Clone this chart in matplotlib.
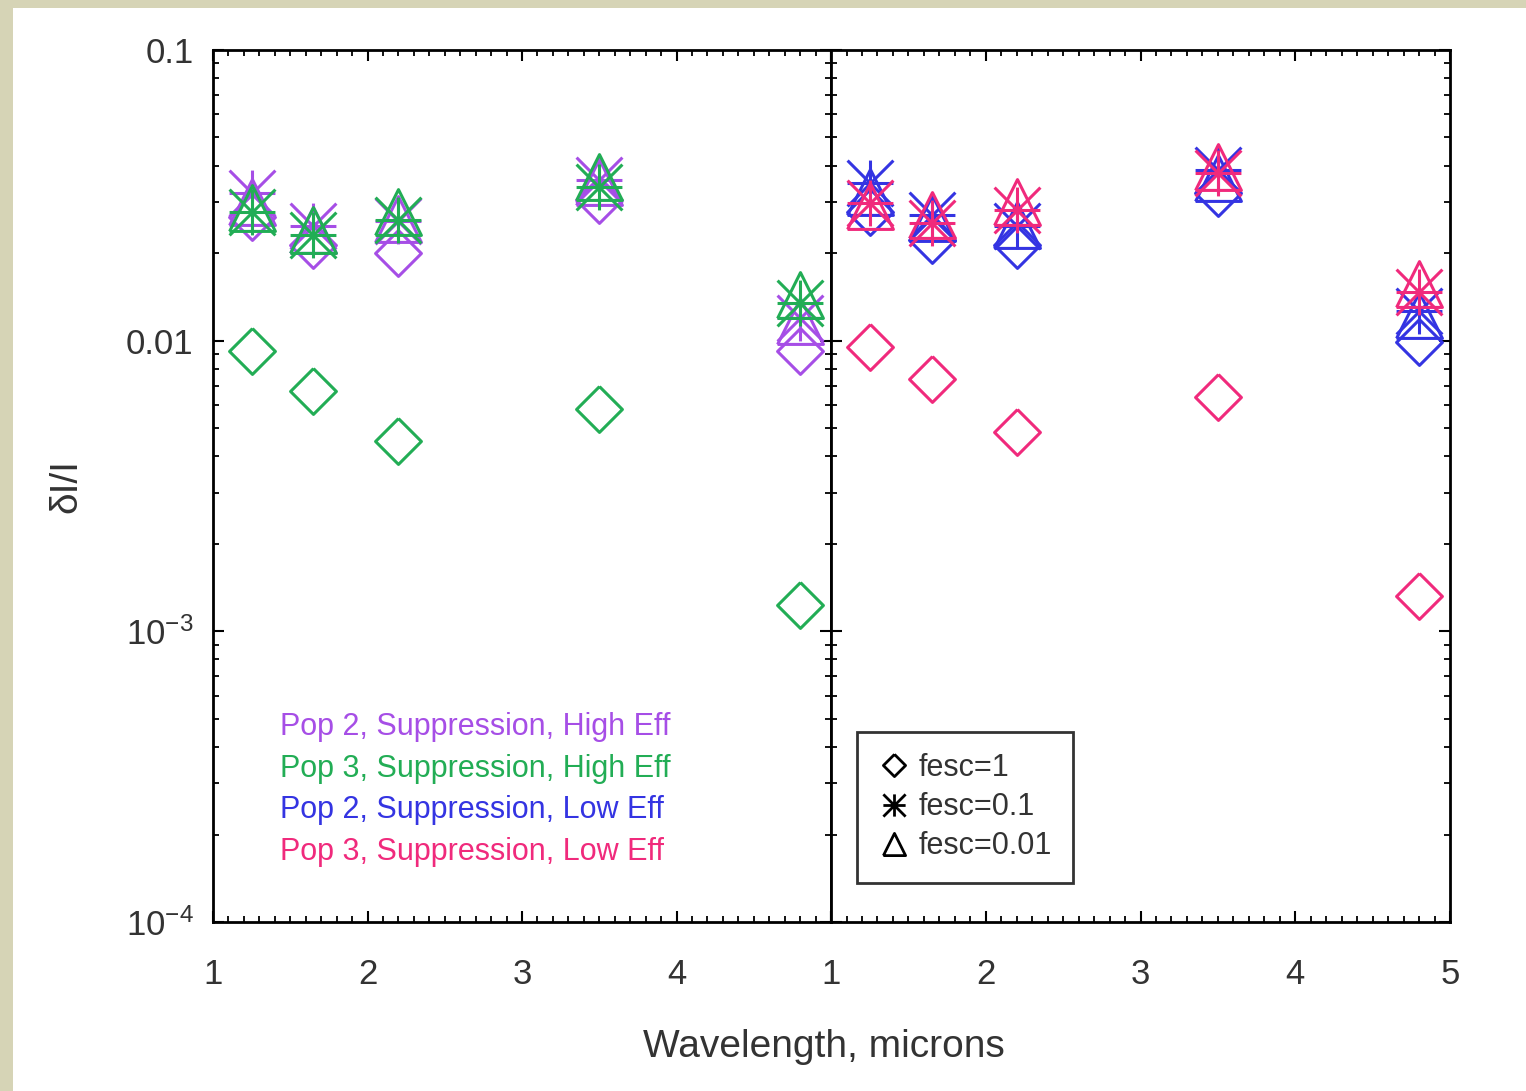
import matplotlib
matplotlib.use('Agg')
import matplotlib.pyplot as plt
from matplotlib.path import Path
from matplotlib.lines import Line2D
from matplotlib.patches import Rectangle
from matplotlib.ticker import FixedLocator, FixedFormatter, MultipleLocator, LogLocator

plt.rcParams['font.family'] = ['Liberation Sans', 'DejaVu Sans']
plt.rcParams['mathtext.default'] = 'regular'

# wavelengths (microns)
wavelengths = [1.25, 1.65, 2.2, 3.5, 4.8]

# left panel: high efficiency
pop2_high_f1 = [0.0267, 0.0214, 0.0200, 0.0305, 0.0092]
pop2_high_f01 = [0.0323, 0.0247, 0.0257, 0.0358, 0.0120]
pop2_high_f001 = [0.0300, 0.0240, 0.0262, 0.0350, 0.0117]
pop3_high_f1 = [0.0092, 0.0067, 0.0045, 0.0058, 0.00123]
pop3_high_f01 = [0.0277, 0.0230, 0.0260, 0.0338, 0.0135]
pop3_high_f001 = [0.0285, 0.0241, 0.0277, 0.0366, 0.0144]

# right panel: low efficiency
pop2_low_f1 = [0.0277, 0.0222, 0.0214, 0.0323, 0.0099]
pop2_low_f01 = [0.0349, 0.0271, 0.0247, 0.0387, 0.0126]
pop2_low_f001 = [0.0325, 0.0265, 0.0250, 0.0363, 0.0123]
pop3_low_f1 = [0.0095, 0.0074, 0.00486, 0.0064, 0.00132]
pop3_low_f01 = [0.0298, 0.0254, 0.0282, 0.0378, 0.0147]
pop3_low_f001 = [0.0290, 0.0270, 0.0300, 0.0396, 0.0157]

series_names = ['Pop 2, Suppression, High Eff', 'Pop 3, Suppression, High Eff',
                'Pop 2, Suppression, Low Eff', 'Pop 3, Suppression, Low Eff']
fesc_labels = ['fesc=1', 'fesc=0.1', 'fesc=0.01']

c_purple = '#a64ee6'
c_green = '#22ad55'
c_blue = '#3434e2'
c_pink = '#f02a7c'
text_col = '#333333'

# IDL-like symbols
diamond = Path([(0, 1), (1, 0), (0, -1), (-1, 0), (0, 1)])
asterisk = Path([(-1, 0), (1, 0), (0, -1), (0, 1), (-1, -1), (1, 1), (-1, 1), (1, -1)],
                [Path.MOVETO, Path.LINETO] * 4)
triangle = Path([(-1, -1), (0, 1), (1, -1), (-1, -1)])
syms = [diamond, asterisk, triangle]

fig = plt.figure(figsize=(15.26, 10.91), dpi=100)
fig.patches.append(Rectangle((0, 1 - 8 / 1091), 1, 8 / 1091, transform=fig.transFigure,
                             facecolor='#d6d4b6', edgecolor='none', zorder=0))
fig.patches.append(Rectangle((0, 0), 13 / 1526, 1, transform=fig.transFigure,
                             facecolor='#d6d4b6', edgecolor='none', zorder=0))

ax1 = fig.add_axes([0.1396, 0.1549, 0.4050, 0.7993])
ax2 = fig.add_axes([0.5446, 0.1549, 0.4056, 0.7993])

ms = 33
panels = [
    (ax1, [(c_purple, [pop2_high_f1, pop2_high_f01, pop2_high_f001]),
           (c_green, [pop3_high_f1, pop3_high_f01, pop3_high_f001])]),
    (ax2, [(c_blue, [pop2_low_f1, pop2_low_f01, pop2_low_f001]),
           (c_pink, [pop3_low_f1, pop3_low_f01, pop3_low_f001])]),
]
for ax, groups in panels:
    for col, vals in groups:
        for sym, v in zip(syms, vals):
            ax.plot(wavelengths, v, linestyle='none', marker=sym, ms=ms,
                    mfc='none', mec=col, mew=2.2, clip_on=False)

for ax in (ax1, ax2):
    ax.set_yscale('log')
    ax.set_ylim(1e-4, 0.1)
    ax.set_xlim(1, 5)
    ax.xaxis.set_major_locator(FixedLocator([1, 2, 3, 4, 5]))
    ax.xaxis.set_minor_locator(MultipleLocator(0.1))
    ax.yaxis.set_major_locator(FixedLocator([1e-4, 1e-3, 1e-2, 1e-1]))
    ax.yaxis.set_minor_locator(LogLocator(base=10, subs=range(2, 10)))
    ax.tick_params(which='both', direction='in', top=True, right=True,
                   colors='black', labelcolor=text_col, labelsize=25)
    ax.tick_params(which='major', length=8, width=1.5)
    ax.tick_params(which='minor', length=4, width=1.3)
    ax.tick_params(axis='x', pad=26)
    ax.tick_params(axis='y', pad=14)
    for s in ax.spines.values():
        s.set_linewidth(2.0)

ax1.xaxis.set_major_formatter(FixedFormatter(['1', '2', '3', '4', '']))
ax1.yaxis.set_major_formatter(FixedFormatter(['10$^{-4}$', '10$^{-3}$', '0.01', '0.1']))
ax2.xaxis.set_major_formatter(FixedFormatter(['1', '2', '3', '4', '5']))
ax2.yaxis.set_major_formatter(FixedFormatter(['', '', '', '']))

ax1.set_ylabel('δI/I', fontsize=28, color=text_col)
ax1.yaxis.set_label_coords(-0.208, 0.5)
fig.text(0.540, 0.040, 'Wavelength, microns', fontsize=28, color=text_col,
         ha='center', va='center')

# coloured series labels in the left panel
for i, (name, col) in enumerate(zip(series_names, [c_purple, c_green, c_blue, c_pink])):
    ax1.text(0.108, 0.2236 - i * 0.0478, name, color=col, fontsize=22,
             transform=ax1.transAxes, va='center', ha='left')

# symbol legend in the right panel
handles = [Line2D([], [], linestyle='none', marker=s, ms=16, mfc='none',
                  mec='black', mew=2.0) for s in syms]
leg = ax2.legend(handles, fesc_labels, loc='lower left', bbox_to_anchor=(0.042, 0.045),
                 borderaxespad=0, fontsize=22, frameon=True, fancybox=False,
                 handlelength=1.0, handletextpad=0.3, labelspacing=0.3, borderpad=0.7,
                 labelcolor=text_col)
leg.get_frame().set_edgecolor('black')
leg.get_frame().set_linewidth(2.0)

fig.savefig('out.png', dpi=100)
